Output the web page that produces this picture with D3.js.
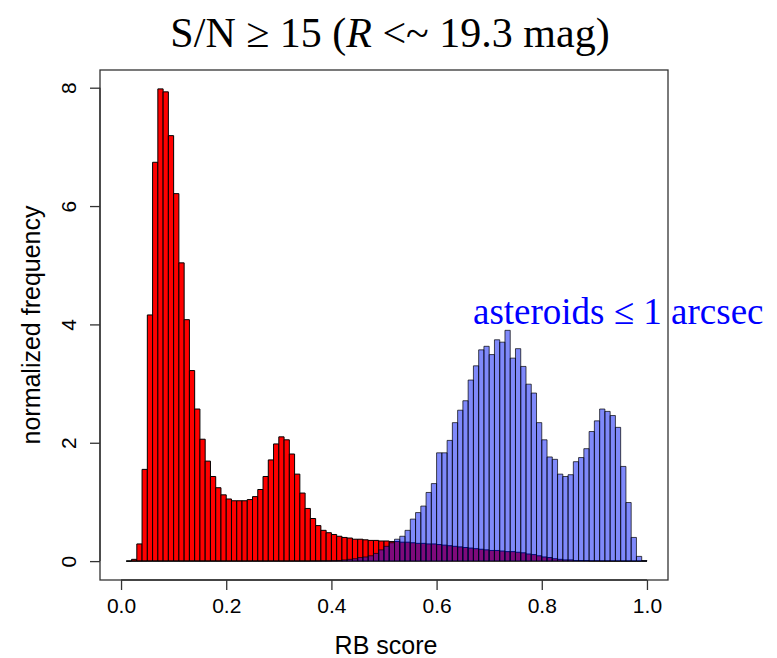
<!DOCTYPE html>
<html>

<head>
    <title>RB score histogram</title>
    <script type="text/javascript" src="https://cdn.jsdelivr.net/npm/d3@7"></script>
    <style type="text/css">
        body { margin: 0; background: #fff; }
    </style>
</head>

<body>
    <svg width="777" height="658"></svg>
</body>

<script type="text/javascript">
    // bin width 0.01, bins start at 0.00 ... 0.99 (null = bin not drawn)
    let binWidth = 0.01;
    let binStarts = d3.range(0, 100).map(function(i) { return i / 100; });

    let bogus = [null, 0, 0.03, 0.29, 1.55, 4.16, 6.74, 7.98, 7.93, 7.19,
        6.21, 5.04, 4.08, 3.22, 2.57, 2.06, 1.69, 1.43, 1.24, 1.12,
        1.05, 1.02, 1.02, 1.02, 1.04, 1.09, 1.21, 1.43, 1.71, 1.98,
        2.10, 2.05, 1.81, 1.47, 1.15, 0.89, 0.72, 0.60, 0.52, 0.48,
        0.45, 0.42, 0.40, 0.39, 0.37, 0.37, 0.36, 0.35, 0.35, 0.34,
        0.34, 0.33, 0.33, 0.32, 0.32, 0.31, 0.30, 0.30, 0.29, 0.29,
        0.28, 0.27, 0.26, 0.25, 0.24, 0.23, 0.22, 0.21, 0.20, 0.19,
        0.18, 0.18, 0.17, 0.16, 0.16, 0.15, 0.14, 0.12, 0.11, 0.09,
        0.07, 0.06, 0.04, 0.03, 0.02, 0.02, 0.01, 0.01, 0.01, 0.005,
        0.005, 0.003, 0.003, 0.002, 0.002, 0.001, 0.001, 0, 0, 0];

    let asteroids = [null, 0, 0, 0, 0, 0, 0, 0, 0, 0,
        0, 0, 0, 0, 0, 0, 0, 0, 0, 0,
        0, 0, 0, 0, 0, 0, 0, 0, 0, 0,
        0, 0, 0, 0, 0, 0, 0.002, 0.003, 0.004, 0.005,
        0.007, 0.01, 0.02, 0.03, 0.04, 0.06, 0.07, 0.09, 0.13, 0.19,
        0.25, 0.31, 0.37, 0.42, 0.52, 0.71, 0.82, 0.93, 1.16, 1.31,
        1.83, 1.83, 2.04, 2.34, 2.55, 2.71, 3.06, 3.30, 3.57, 3.63,
        3.49, 3.74, 3.70, 3.90, 3.43, 3.59, 3.29, 2.99, 2.84, 2.34,
        2.05, 1.76, 1.72, 1.47, 1.43, 1.46, 1.68, 1.75, 1.90, 2.19,
        2.37, 2.57, 2.53, 2.46, 2.26, 1.60, 0.99, 0.40, 0.08, 0.01];

    let xTicks = [0, 0.2, 0.4, 0.6, 0.8, 1.0];
    let yTicks = [0, 2, 4, 6, 8];

    let svg = d3.select("svg");
    let plotLeft = 100, plotRight = 668, plotTop = 70, plotBottom = 580;

    // R style 4% padding on both axes
    let ymax = d3.max(bogus);
    let x = d3.scaleLinear().domain([-0.04, 1.04]).range([plotLeft, plotRight]);
    let y = d3.scaleLinear().domain([-0.04 * ymax, ymax * 1.04]).range([plotBottom, plotTop]);

    function bars(values) {
        return binStarts.map(function(b, i) {
            return { x0: b, x1: b + binWidth, v: values[i] };
        }).filter(function(d) { return d.v !== null; });
    }

    function barPath(d) {
        let x0 = x(d.x0), x1 = x(d.x1), y0 = y(0), y1 = y(d.v);
        return "M" + x0 + "," + y0 + "V" + y1 + "H" + x1 + "V" + y0 + "Z";
    }

    svg.append("g").selectAll("path").data(bars(bogus)).enter()
        .append("path")
        .attr("d", barPath)
        .attr("fill", "#ff0000")
        .attr("stroke", "#000")
        .attr("stroke-width", 1);

    svg.append("g").selectAll("path").data(bars(asteroids)).enter()
        .append("path")
        .attr("d", barPath)
        .attr("fill", "rgb(0,20,245)")
        .attr("fill-opacity", 0.5)
        .attr("stroke", "#000")
        .attr("stroke-opacity", 0.7)
        .attr("stroke-width", 1);

    // box
    svg.append("rect")
        .attr("x", plotLeft).attr("y", plotTop)
        .attr("width", plotRight - plotLeft).attr("height", plotBottom - plotTop)
        .attr("fill", "none")
        .attr("stroke", "#333")
        .attr("stroke-width", 1.3);

    // x axis
    let xAxis = svg.append("g")
        .attr("transform", "translate(0," + plotBottom + ")")
        .call(d3.axisBottom(x).tickValues(xTicks).tickSize(10).tickPadding(8)
            .tickFormat(d3.format(".1f")));
    xAxis.select(".domain").attr("stroke", "#333").attr("stroke-width", 1.3)
        .attr("d", "M" + x(0) + ",0H" + x(1));
    xAxis.selectAll(".tick line").attr("stroke", "#333").attr("stroke-width", 1.3);
    xAxis.selectAll("text")
        .attr("font-family", "Liberation Sans, Arial, sans-serif")
        .attr("font-size", 21)
        .attr("fill", "#000");

    // y axis, rotated labels like R's default
    let yAxis = svg.append("g")
        .attr("transform", "translate(" + plotLeft + ",0)")
        .call(d3.axisLeft(y).tickValues(yTicks).tickSize(10).tickFormat(d3.format("d")));
    yAxis.select(".domain").attr("stroke", "#333").attr("stroke-width", 1.3)
        .attr("d", "M0," + y(0) + "V" + y(8));
    yAxis.selectAll(".tick line").attr("stroke", "#333").attr("stroke-width", 1.3);
    yAxis.selectAll("text")
        .attr("font-family", "Liberation Sans, Arial, sans-serif")
        .attr("font-size", 21)
        .attr("fill", "#000")
        .attr("x", null).attr("dy", null)
        .attr("text-anchor", "middle")
        .attr("transform", "translate(-24,0) rotate(-90)");

    svg.append("text")
        .attr("x", 386).attr("y", 654)
        .attr("text-anchor", "middle")
        .attr("font-family", "Liberation Sans, Arial, sans-serif")
        .attr("font-size", 25)
        .text("RB score");

    svg.append("text")
        .attr("transform", "translate(40," + ((plotTop + plotBottom) / 2) + ") rotate(-90)")
        .attr("text-anchor", "middle")
        .attr("font-family", "Liberation Sans, Arial, sans-serif")
        .attr("font-size", 25)
        .text("normalized frequency");

    // title
    let title = svg.append("text")
        .attr("x", 390).attr("y", 47)
        .attr("text-anchor", "middle")
        .attr("font-family", "Liberation Serif, Times New Roman, serif")
        .attr("font-size", 42);
    title.append("tspan").text("S/N \u2265 15 (");
    title.append("tspan").attr("font-style", "italic").text("R");
    title.append("tspan").text(" <~ 19.3 mag)");

    svg.append("text")
        .attr("x", 473).attr("y", 324)
        .attr("font-family", "Liberation Serif, Times New Roman, serif")
        .attr("font-size", 37)
        .attr("fill", "#0000ff")
        .text("asteroids \u2264 1 arcsec");
</script>

</html>
